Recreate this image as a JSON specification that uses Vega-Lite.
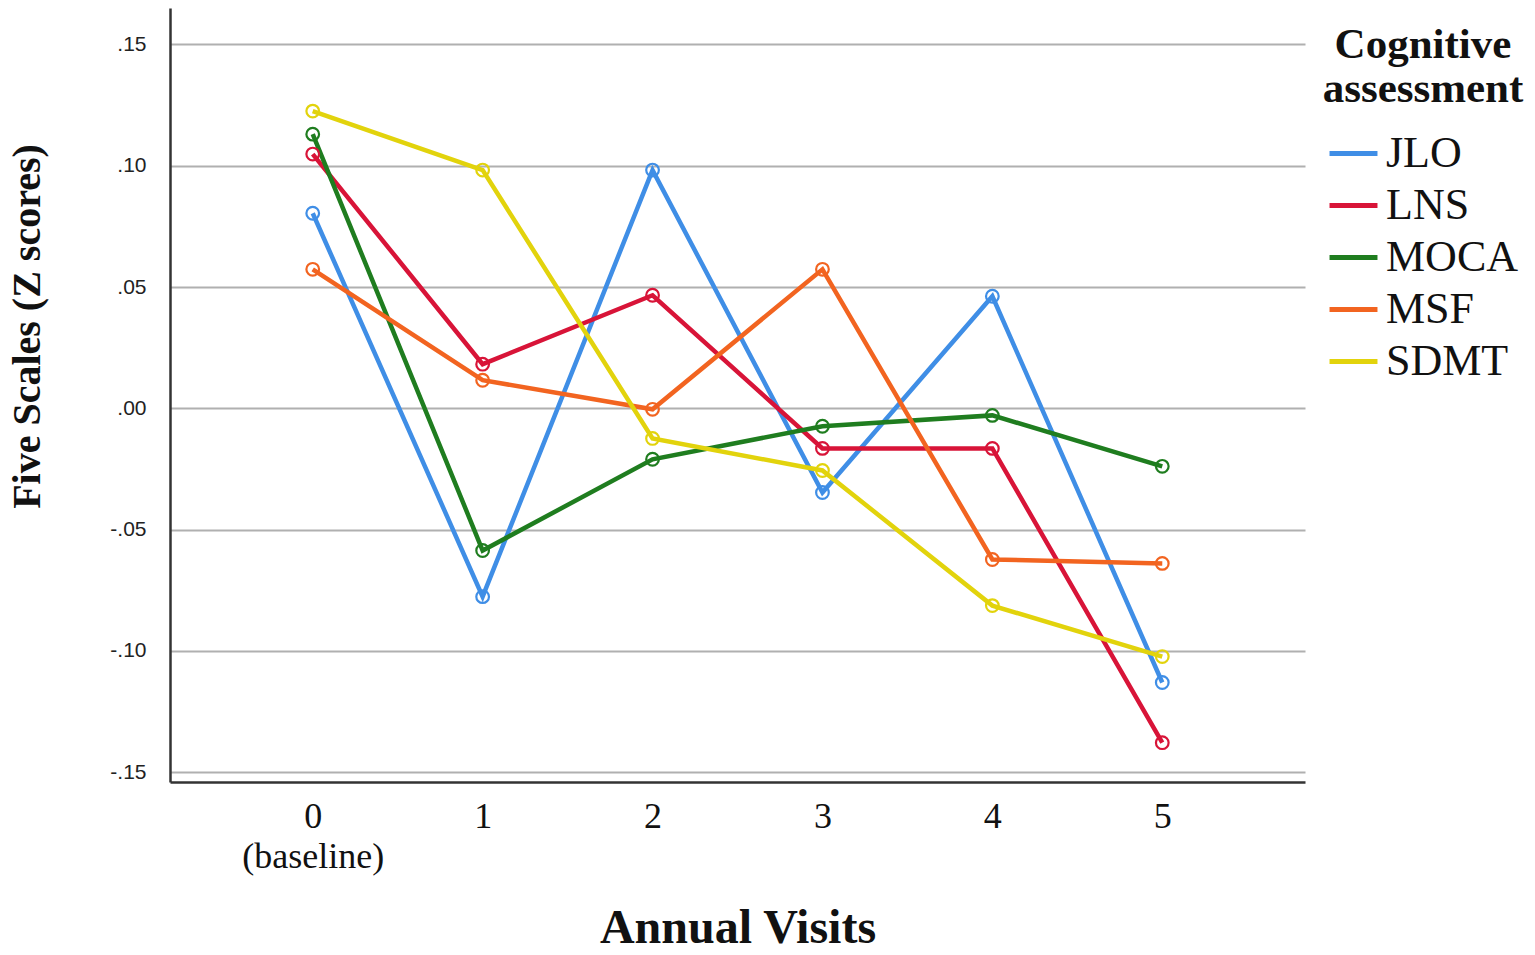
{
  "$schema": "https://vega.github.io/schema/vega-lite/v6.json",
  "autosize": "none",
  "width": 1135,
  "height": 774,
  "padding": {"left": 170, "top": 8, "right": 230, "bottom": 173},
  "background": "white",
  "config": {
    "view": {"stroke": null},
    "font": "Liberation Serif"
  },
  "data": {
    "values": [
      {"visit": "0", "scale": "JLO", "z": 0.0804},
      {"visit": "1", "scale": "JLO", "z": -0.0776},
      {"visit": "2", "scale": "JLO", "z": 0.0982},
      {"visit": "3", "scale": "JLO", "z": -0.0347},
      {"visit": "4", "scale": "JLO", "z": 0.0462},
      {"visit": "5", "scale": "JLO", "z": -0.1130},
      {"visit": "0", "scale": "LNS", "z": 0.1048},
      {"visit": "1", "scale": "LNS", "z": 0.0182},
      {"visit": "2", "scale": "LNS", "z": 0.0466},
      {"visit": "3", "scale": "LNS", "z": -0.0165},
      {"visit": "4", "scale": "LNS", "z": -0.0165},
      {"visit": "5", "scale": "LNS", "z": -0.1378},
      {"visit": "0", "scale": "MOCA", "z": 0.1130},
      {"visit": "1", "scale": "MOCA", "z": -0.0586},
      {"visit": "2", "scale": "MOCA", "z": -0.0210},
      {"visit": "3", "scale": "MOCA", "z": -0.0074},
      {"visit": "4", "scale": "MOCA", "z": -0.0029},
      {"visit": "5", "scale": "MOCA", "z": -0.0239},
      {"visit": "0", "scale": "MSF", "z": 0.0573},
      {"visit": "1", "scale": "MSF", "z": 0.0116},
      {"visit": "2", "scale": "MSF", "z": -0.0004},
      {"visit": "3", "scale": "MSF", "z": 0.0573},
      {"visit": "4", "scale": "MSF", "z": -0.0623},
      {"visit": "5", "scale": "MSF", "z": -0.0639},
      {"visit": "0", "scale": "SDMT", "z": 0.1225},
      {"visit": "1", "scale": "SDMT", "z": 0.0982},
      {"visit": "2", "scale": "SDMT", "z": -0.0124},
      {"visit": "3", "scale": "SDMT", "z": -0.0256},
      {"visit": "4", "scale": "SDMT", "z": -0.0813},
      {"visit": "5", "scale": "SDMT", "z": -0.1023}
    ]
  },
  "encoding": {
    "x": {
      "field": "visit",
      "type": "ordinal",
      "sort": ["0", "1", "2", "3", "4", "5"],
      "scale": {"type": "point", "padding": 0.84},
      "axis": {
        "title": "Annual Visits",
        "titleFont": "Liberation Serif",
        "titleFontSize": 48,
        "titleFontWeight": "bold",
        "titleColor": "#111",
        "titleY": 146,
        "titleBaseline": "middle",
        "labelExpr": "datum.value == '0' ? ['0', '(baseline)'] : datum.value",
        "labelFont": "Liberation Serif",
        "labelFontSize": 36,
        "labelLineHeight": 40,
        "labelColor": "#111",
        "labelAngle": 0,
        "labelPadding": 17,
        "labelBaseline": "top",
        "ticks": false,
        "grid": false,
        "domainColor": "#333",
        "domainWidth": 2.5
      }
    },
    "y": {
      "field": "z",
      "type": "quantitative",
      "scale": {"domain": [-0.154, 0.165], "nice": false, "zero": false},
      "axis": {
        "title": "Five Scales (Z scores)",
        "titleFont": "Liberation Serif",
        "titleFontSize": 40,
        "titleFontWeight": "bold",
        "titleColor": "#111",
        "titleAngle": 270,
        "titleX": -143,
        "titleY": 318,
        "titleBaseline": "middle",
        "titleAlign": "center",
        "values": [-0.15, -0.1, -0.05, 0, 0.05, 0.1, 0.15],
        "labelExpr": "replace(replace(format(datum.value, '.2f'), '0.', '.'), '\u2212', '-')",
        "labelFont": "Liberation Sans",
        "labelFontSize": 21,
        "labelColor": "#222",
        "labelPadding": 24,
        "ticks": false,
        "grid": true,
        "gridColor": "#b0b0b0",
        "gridWidth": 2,
        "domainColor": "#333",
        "domainWidth": 2.5
      }
    },
    "color": {
      "field": "scale",
      "type": "nominal",
      "scale": {
        "domain": ["JLO", "LNS", "MOCA", "MSF", "SDMT"],
        "range": ["#3f8ee6", "#d81438", "#1f7d1f", "#f26420", "#e2d30c"]
      },
      "legend": {
        "title": ["Cognitive", "assessment"],
        "titleFont": "Liberation Serif",
        "titleFontSize": 43,
        "titleFontWeight": "bold",
        "titleColor": "#111",
        "titleLineHeight": 44,
        "titleAnchor": "middle",
        "titleLimit": 400,
        "titlePadding": 16,
        "labelFont": "Liberation Serif",
        "labelFontSize": 44,
        "labelColor": "#111",
        "labelOffset": 6,
        "labelLimit": 300,
        "symbolType": "stroke",
        "symbolSize": 2300,
        "symbolStrokeWidth": 5,
        "rowPadding": 3,
        "orient": "none",
        "legendX": 1153,
        "legendY": 16
      }
    }
  },
  "layer": [
    {
      "mark": {"type": "line", "strokeWidth": 4.5}
    },
    {
      "mark": {"type": "point", "filled": false, "size": 160, "strokeWidth": 2.2, "opacity": 1},
      "encoding": {"shape": {"value": "circle"}}
    }
  ]
}
